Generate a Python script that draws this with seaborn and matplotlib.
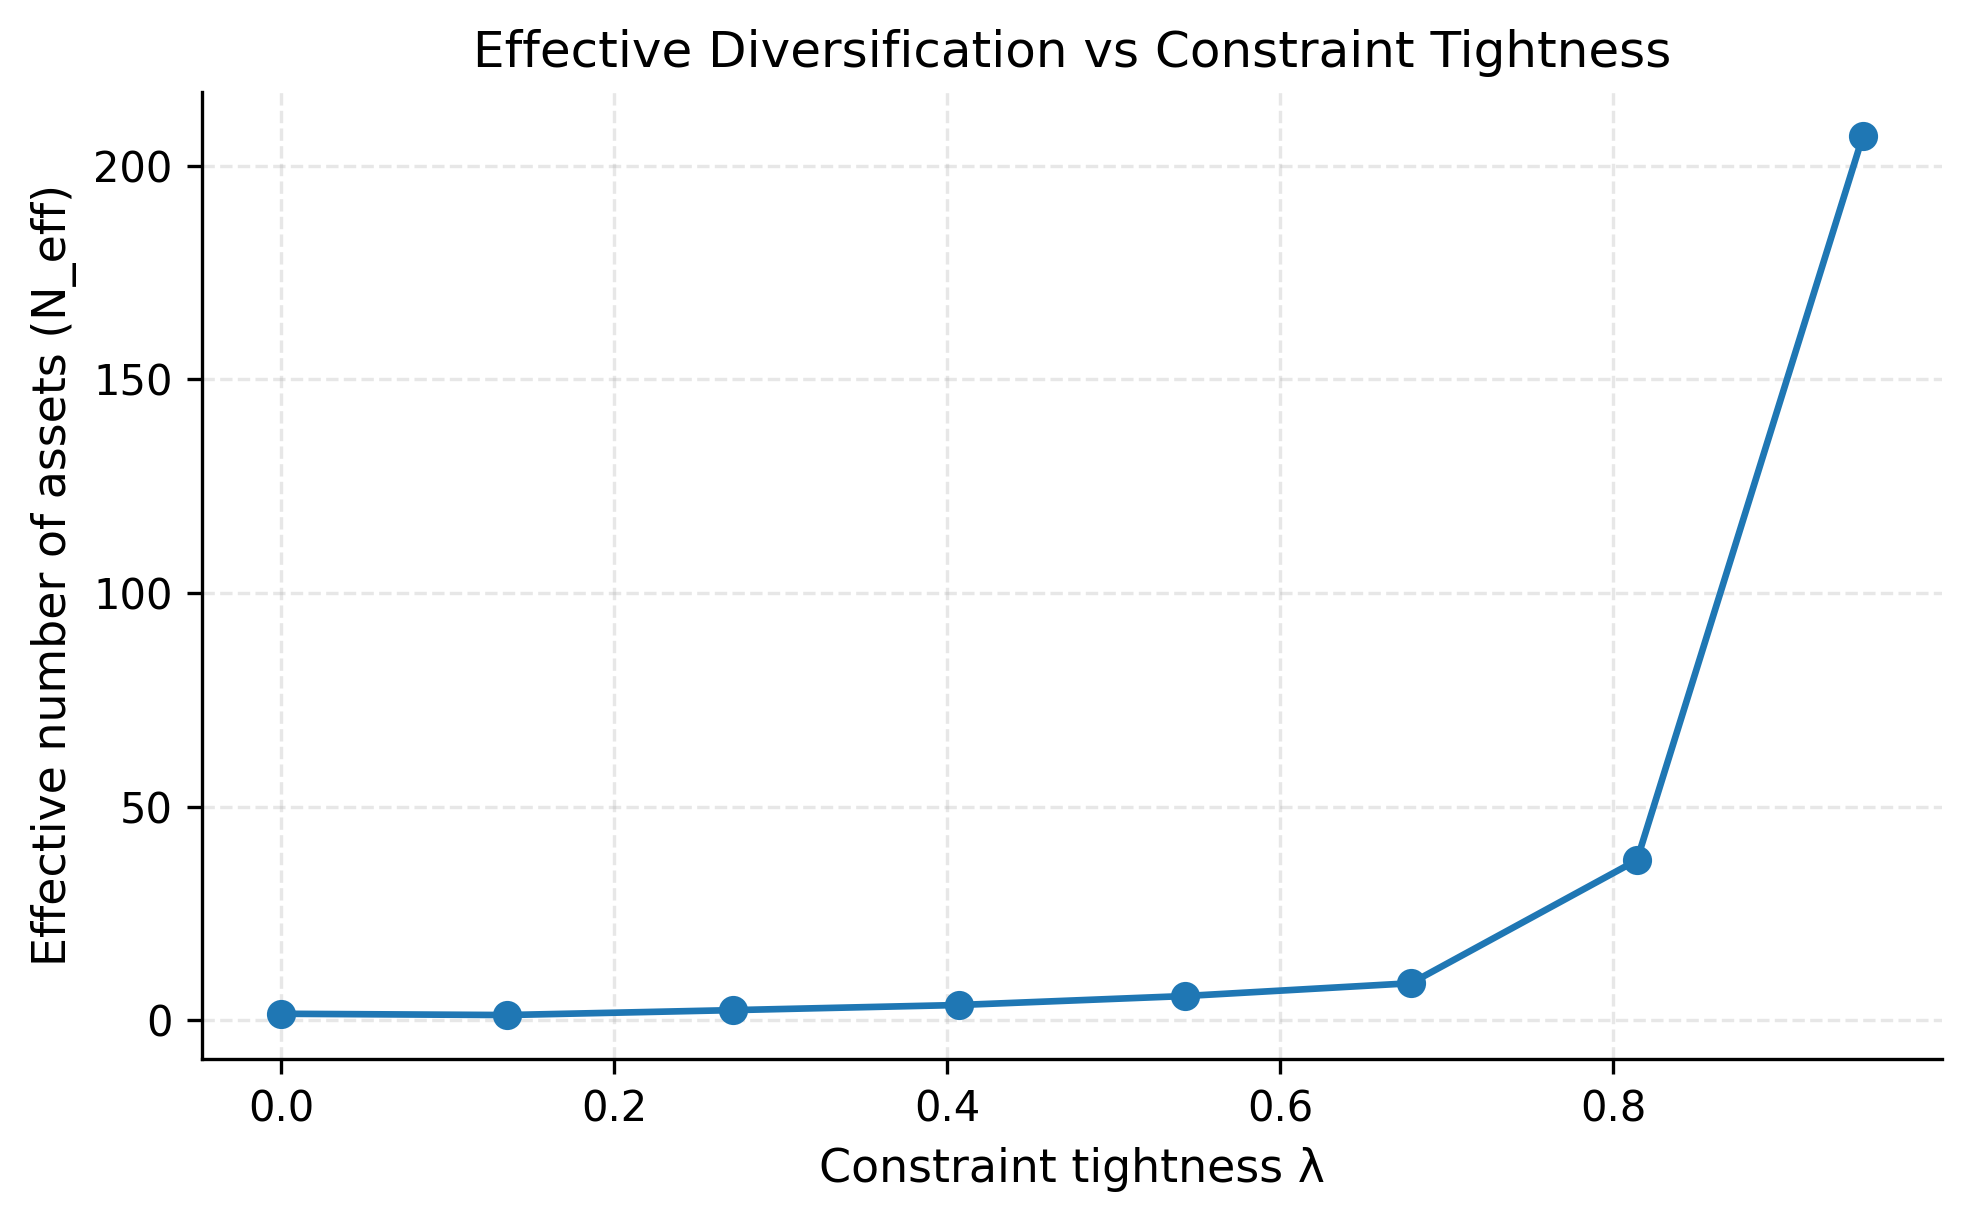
import numpy as np
import pandas as pd
import matplotlib
matplotlib.use("Agg")
import matplotlib.pyplot as plt
import seaborn as sns

# Data
lambda_values = [0.0, 0.1357, 0.2714, 0.4071, 0.5429, 0.6786, 0.8143, 0.95]
n_eff_values = [1.55, 1.25, 2.4, 3.6, 5.7, 8.7, 37.5, 207.0]

title_text = "Effective Diversification vs Constraint Tightness"
x_label = "Constraint tightness λ"
y_label = "Effective number of assets (N_eff)"

df = pd.DataFrame({"lam": lambda_values, "neff": n_eff_values})

plt.rcParams["font.family"] = ["DejaVu Sans"]
fig, ax = plt.subplots(figsize=(1970 / 300, 1220 / 300), dpi=300)
fig.subplots_adjust(left=202 / 1970, right=1942 / 1970, top=1 - 92 / 1220, bottom=1 - 1059 / 1220)

color = "#1f77b4"
sns.lineplot(data=df, x="lam", y="neff", ax=ax, color=color, marker="o",
             markersize=6, markeredgecolor=color, markeredgewidth=1, linewidth=1.6)

ax.set_title(title_text, fontsize=12)
ax.set_xlabel(x_label, fontsize=11)
ax.set_ylabel(y_label, fontsize=11)
ax.tick_params(labelsize=10)
ax.grid(True, linestyle="--", alpha=0.3)
sns.despine(ax=ax)

fig.savefig("out.png", dpi=300)
